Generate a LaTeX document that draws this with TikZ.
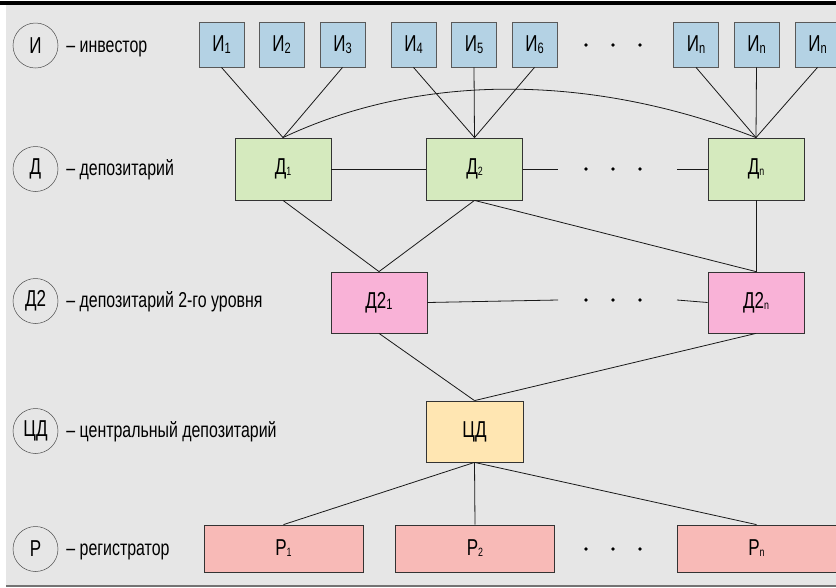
\documentclass[tikz,border=0pt]{standalone}
\usepackage{fontspec}
\setmainfont{Liberation Sans}[FakeStretch=0.74]
\usetikzlibrary{positioning}
\definecolor{bgGray}{RGB}{230,230,230}
\definecolor{invBlue}{RGB}{180,210,228}
\definecolor{depGreen}{RGB}{213,234,190}
\definecolor{depPink}{RGB}{249,178,215}
\definecolor{cdYellow}{RGB}{255,230,178}
\definecolor{regRed}{RGB}{248,186,183}
\newcommand{\sbs}[1]{\raisebox{-1.5pt}{\fontsize{15}{15}\selectfont #1}}
\newcommand{\sbsm}[1]{\raisebox{-1pt}{\fontsize{12}{12}\selectfont #1}}
\tikzset{
  box/.style={rectangle, draw=black!80, line width=0.8pt, fill=#1, inner sep=0pt,
              font=\fontsize{23}{25}\selectfont, text centered},
  inv/.style={box=invBlue, draw=black!65, minimum width=45pt, minimum height=45pt},
  dep/.style={box=depGreen, minimum width=96pt, minimum height=62pt},
  deptwo/.style={box=depPink, minimum width=96pt, minimum height=61pt},
  cdep/.style={box=cdYellow, minimum width=97pt, minimum height=61pt},
  reg/.style={box=regRed, minimum width=159pt, minimum height=47pt},
  legend/.style={circle, draw=black!70, line width=0.5pt, minimum size=45pt, inner sep=0pt,
                 font=\fontsize{23}{25}\selectfont},
  legtext/.style={inner sep=0pt, anchor=west, text height=16pt, text depth=3pt,
                  font=\fontsize{21.5}{24}\selectfont},
  link/.style={line width=0.8pt, black!90},
}
\begin{document}
\begin{tikzpicture}[x=1pt, y=-1pt]
    \useasboundingbox (0,0) rectangle (836,587);

    % frame
    \fill[bgGray] (6,5) rectangle (836,586);
    \draw[line width=3.5pt] (0,3) -- (836,3);
    \draw[black!55, line width=1.2pt] (6,586) -- (836,586);

    % legend
    \node[legend] (lgi) at (35.5,45.5) {И};
    \node[legend] (lgd) at (35.5,169) {Д};
    \node[legend] (lgdd) at (35.5,301) {Д2};
    \node[legend] (lgcd) at (35.5,431) {ЦД};
    \node[legend] (lgr) at (35.5,549) {Р};
    \node[legtext, right=8pt of lgi] {– инвестор};
    \node[legtext, right=8pt of lgd] {– депозитарий};
    \node[legtext, right=8pt of lgdd] {– депозитарий 2-го уровня};
    \node[legtext, right=8pt of lgcd] {– центральный депозитарий};
    \node[legtext, right=8pt of lgr] {– регистратор};

    % investors
    \foreach \nm/\x/\s in {i1/221.5/1, i2/281.5/2, i3/342.5/3, i4/413.5/4, i5/474/5,
                           i6/534.5/6, in1/696/n, in2/756.5/n, in3/817.5/n}
      \node[inv] (\nm) at (\x,44.5) {И\sbs{\s}};

    % depositories
    \node[dep] (d1) at (283,169) {Д\sbsm{1}};
    \node[dep] (d2) at (474.5,169) {Д\sbsm{2}};
    \node[dep] (dn) at (756,169) {Д\sbsm{n}};

    % 2nd level
    \node[deptwo] (dd1) at (379,302.5) {Д2\sbs{1}};
    \node[deptwo] (ddn) at (756,302.5) {Д2\sbsm{n}};

    % central depository
    \node[cdep] (cd) at (474.5,431.5) {ЦД};

    % registrars
    \node[reg] (r1) at (283.5,548.5) {Р\sbsm{1}};
    \node[reg] (r2) at (475,548.5) {Р\sbsm{2}};
    \node[reg] (rn) at (756.5,548.5) {Р\sbsm{n}};

    % investors -> depositories
    \foreach \a/\b in {i1/d1, i3/d1, i4/d2, i5/d2, i6/d2, in1/dn, in2/dn, in3/dn}
      \draw[link] (\a.south) -- (\b.north);
    \draw[link] (d1.north) .. controls (420,73) and (590,73) .. (dn.north);

    % rows with gaps
    \coordinate (gda) at (558,169);
    \coordinate (gdb) at (677,169);
    \coordinate (gea) at (558,300);
    \coordinate (geb) at (677,300);
    \draw[link] (d1.east) -- (d2.west);
    \draw[link] (d2.east) -- (gda);
    \draw[link] (gdb) -- (dn.west);
    \draw[link] (dd1.east) -- (gea);
    \draw[link] (geb) -- (ddn.west);

    % dots
    \foreach \y in {45,169,300,549}
      \foreach \x in {586,613,640}
        \fill (\x,\y) circle (1.9);

    % lower links
    \foreach \a/\b in {d1/dd1, d2/dd1, d2/ddn, dn/ddn, dd1/cd, ddn/cd}
      \draw[link] (\a.south) -- (\b.north);
    \foreach \b in {r1, r2, rn}
      \draw[link] (cd.south) -- (\b.north);
  \end{tikzpicture}
\end{document}
